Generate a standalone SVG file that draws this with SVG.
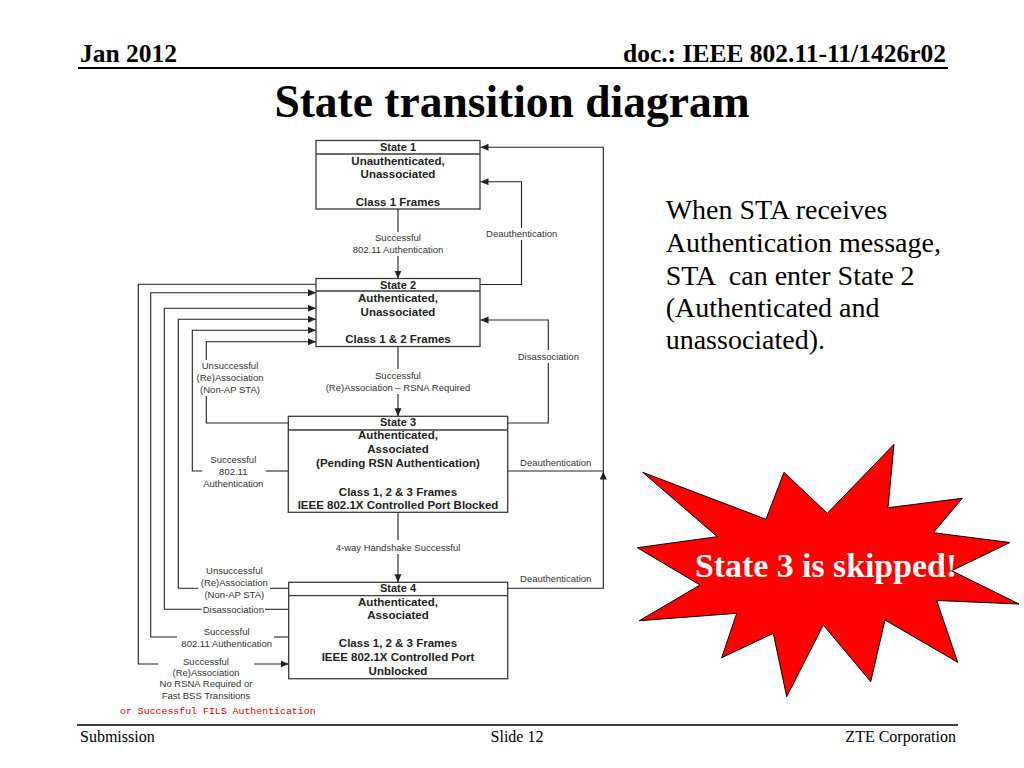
<svg xmlns="http://www.w3.org/2000/svg" width="1024" height="768" viewBox="0 0 1024 768">
<defs>
<style>
.slide{font-family:"Liberation Serif","Times New Roman",serif;fill:#000}
.box{fill:#fff;stroke:#3a3a3a;stroke-width:1.3}
.div{stroke:#3a3a3a;stroke-width:1.3}
.st{font-family:"Liberation Sans",Arial,sans-serif;font-weight:bold;font-size:11.5px;fill:#222;text-anchor:middle}
.sh{font-family:"Liberation Sans",Arial,sans-serif;font-weight:bold;font-size:11px;fill:#222;text-anchor:middle}
.lb{font-family:"Liberation Sans",Arial,sans-serif;font-size:9.5px;fill:#333;text-anchor:middle}
.ln{fill:none;stroke:#222;stroke-width:1.1}
.arr{fill:none;stroke:#222;stroke-width:1.1;marker-end:url(#ah)}
</style>
<marker id="ah" markerUnits="userSpaceOnUse" markerWidth="9" markerHeight="8" refX="8" refY="3.5" orient="auto">
<path d="M0,0 L8,3.5 L0,7 z" fill="#222"/>
</marker>
</defs>
<rect width="1024" height="768" fill="#fff"/>

<!-- header -->
<text class="slide" x="80" y="62" font-size="25.5" font-weight="bold">Jan 2012</text>
<text class="slide" x="946" y="62" font-size="25.5" font-weight="bold" text-anchor="end">doc.: IEEE 802.11-11/1426r02</text>
<line x1="78" y1="68" x2="948" y2="68" stroke="#000" stroke-width="2"/>
<text class="slide" x="512" y="117" font-size="45.5" font-weight="bold" text-anchor="middle">State transition diagram</text>

<!-- states -->
<g id="state1">
<rect class="box" x="316" y="140.5" width="164" height="68.5"/>
<line class="div" x1="316" y1="154" x2="480" y2="154"/>
<text class="sh" x="398" y="151">State 1</text>
<text class="st" x="398" y="164.5">Unauthenticated,</text>
<text class="st" x="398" y="178.3">Unassociated</text>
<text class="st" x="398" y="206">Class 1 Frames</text>
</g>
<g id="state2">
<rect class="box" x="316" y="278.5" width="164" height="68"/>
<line class="div" x1="316" y1="291" x2="480" y2="291"/>
<text class="sh" x="398" y="288.5">State 2</text>
<text class="st" x="398" y="302.3">Authenticated,</text>
<text class="st" x="398" y="315.7">Unassociated</text>
<text class="st" x="398" y="343.3">Class 1 &amp; 2 Frames</text>
</g>
<g id="state3">
<rect class="box" x="288.3" y="416.3" width="219.4" height="96"/>
<line class="div" x1="288.3" y1="430" x2="507.7" y2="430"/>
<text class="sh" x="398" y="425.5">State 3</text>
<text class="st" x="398" y="439">Authenticated,</text>
<text class="st" x="398" y="452.7">Associated</text>
<text class="st" x="398" y="466.7">(Pending RSN Authentication)</text>
<text class="st" x="398" y="495.7">Class 1, 2 &amp; 3 Frames</text>
<text class="st" x="398" y="509.3">IEEE 802.1X Controlled Port Blocked</text>
</g>
<g id="state4">
<rect class="box" x="288.7" y="582.3" width="219" height="96.4"/>
<line class="div" x1="288.7" y1="595.7" x2="507.7" y2="595.7"/>
<text class="sh" x="398" y="592">State 4</text>
<text class="st" x="398" y="605.7">Authenticated,</text>
<text class="st" x="398" y="619">Associated</text>
<text class="st" x="398" y="647.3">Class 1, 2 &amp; 3 Frames</text>
<text class="st" x="398" y="661">IEEE 802.1X Controlled Port</text>
<text class="st" x="398" y="675">Unblocked</text>
</g>

<!-- connectors -->
<g id="connectors">
<!-- center -->
<path class="ln" d="M398,209 V232"/>
<path class="arr" d="M398,256 V278.5"/>
<path class="ln" d="M398,346.5 V369"/>
<path class="arr" d="M398,394 V416.3"/>
<path class="ln" d="M398,512.3 V540"/>
<path class="arr" d="M398,554 V582.3"/>
<!-- right -->
<path class="ln" d="M480,284.5 H521.5 V240"/>
<path class="arr" d="M521.5,228 V181.7 H480.5"/>
<path class="ln" d="M507.7,423 H548.3 V363"/>
<path class="arr" d="M548.3,350 V320 H480.5"/>
<path class="ln" d="M507.7,471 H603.3"/>
<path class="arr" d="M507.7,588.3 H603.3 V471.5"/>
<path class="arr" d="M603.3,471.5 V147.3 H480.5"/>
<!-- left -->
<path class="ln" d="M316,284.3 H138.3 V664 H158.3"/>
<path class="arr" d="M254,664 H288.7"/>
<path class="ln" d="M288.7,637 H274"/>
<path class="arr" d="M177,637 H150.7 V292.7 H316"/>
<path class="ln" d="M288.7,609.3 H265"/>
<path class="arr" d="M201.7,609.3 H164.3 V308.3 H316"/>
<path class="ln" d="M288.7,588.3 H270"/>
<path class="arr" d="M198.3,588.3 H178.3 V319.3 H316"/>
<path class="ln" d="M288.3,471 H265.7"/>
<path class="arr" d="M202.3,471 H192.3 V330.3 H316"/>
<path class="ln" d="M288.3,423 H206.3 V395.7"/>
<path class="arr" d="M206.3,360 V341.7 H316"/>
<!-- labels -->
<text class="lb" x="398" y="240.5">Successful</text>
<text class="lb" x="398" y="252.7">802.11 Authentication</text>
<text class="lb" x="521.7" y="237">Deauthentication</text>
<text class="lb" x="398" y="378.5">Successful</text>
<text class="lb" x="398" y="390.8">(Re)Association – RSNA Required</text>
<text class="lb" x="548.3" y="360">Disassociation</text>
<text class="lb" x="555.7" y="466">Deauthentication</text>
<text class="lb" x="398" y="551">4-way Handshake Successful</text>
<text class="lb" x="555.7" y="582">Deauthentication</text>
<text class="lb" x="230" y="369">Unsuccessful</text>
<text class="lb" x="230" y="381">(Re)Association</text>
<text class="lb" x="230" y="393.3">(Non-AP STA)</text>
<text class="lb" x="233.3" y="462.8">Successful</text>
<text class="lb" x="233.3" y="475.2">802.11</text>
<text class="lb" x="233.3" y="487.2">Authentication</text>
<text class="lb" x="234.3" y="574">Unsuccessful</text>
<text class="lb" x="234.3" y="585.6">(Re)Association</text>
<text class="lb" x="234.3" y="597.5">(Non-AP STA)</text>
<text class="lb" x="233.3" y="612.7">Disassociation</text>
<text class="lb" x="226.7" y="635">Successful</text>
<text class="lb" x="226.7" y="647">802.11 Authentication</text>
<text class="lb" x="206" y="665">Successful</text>
<text class="lb" x="206" y="676">(Re)Association</text>
<text class="lb" x="206" y="687.3">No RSNA Required or</text>
<text class="lb" x="206" y="699">Fast BSS Transitions</text>
<text x="120" y="713.5" font-family="'Liberation Mono','Courier New',monospace" font-size="9.9" fill="#e00000">or Successful FILS Authentication</text>
</g>

<!-- right text -->
<g class="slide" font-size="28">
<text x="665.7" y="219.3">When STA receives</text>
<text x="665.7" y="252">Authentication message,</text>
<text x="665.7" y="284.5" xml:space="preserve">STA  can enter State 2</text>
<text x="665.7" y="316.8">(Authenticated and</text>
<text x="665.7" y="349">unassociated).</text>
</g>

<!-- star -->
<polygon points="642.7,472.3 766,519.3 784,472.3 827.3,513.3 894,444.3 888,507.7 962.3,498.3 933.3,532.7 1010,542.5 951.7,570.7 1019,604 936.7,600.5 957.7,662.3 885,620 870.7,681.7 823.3,625 786.7,696.7 773.3,633.3 721.7,657.7 736.7,613.3 639.3,620.7 700,585 637.3,547.7 717.3,536.7" fill="#ff0000" stroke="#000" stroke-width="1"/>
<text class="slide" x="695" y="577" font-size="33.8" font-weight="bold" style="fill:#fff">State 3 is skipped!</text>

<!-- footer -->
<line x1="77" y1="725" x2="958" y2="725" stroke="#000" stroke-width="1.5"/>
<text class="slide" x="80" y="742" font-size="16">Submission</text>
<text class="slide" x="517" y="742" font-size="16" text-anchor="middle">Slide 12</text>
<text class="slide" x="956" y="742" font-size="16" text-anchor="end">ZTE Corporation</text>
</svg>
